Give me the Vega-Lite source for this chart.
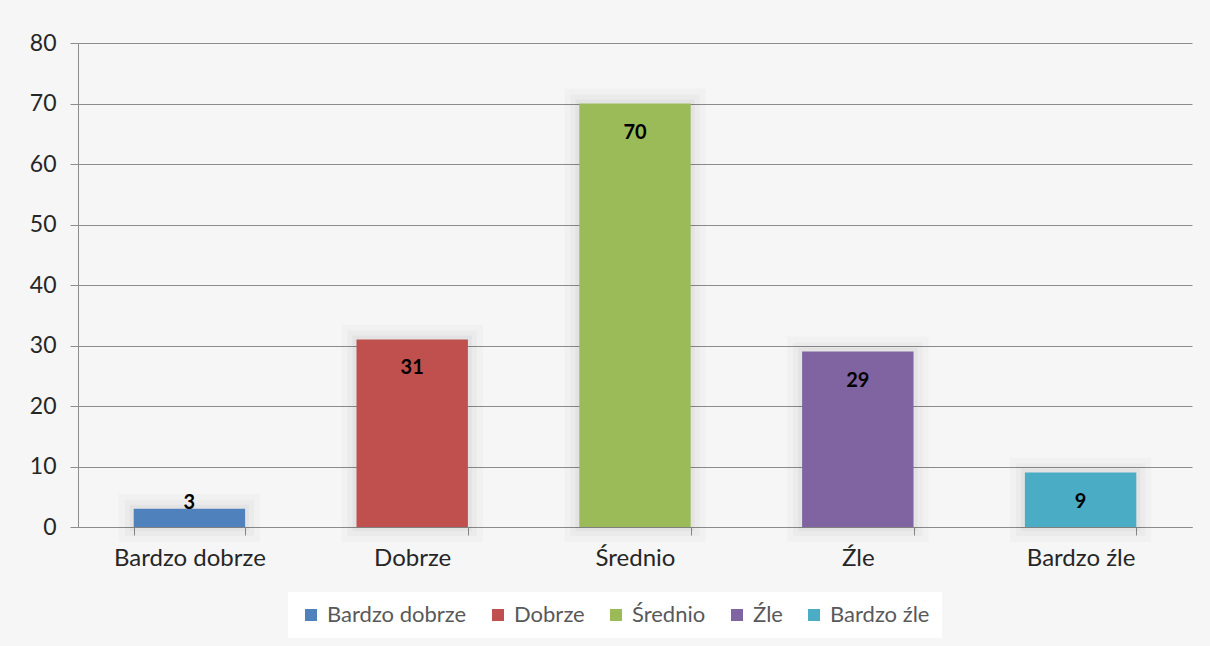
{
  "$schema": "https://vega.github.io/schema/vega-lite/v6.json",
  "width": 1114,
  "height": 484,
  "autosize": {"type": "none"},
  "padding": {"left": 78, "top": 43, "right": 18, "bottom": 119},
  "background": "#f6f6f6",
  "config": {"view": {"stroke": null}, "font": "Lato"},
  "data": {
    "values": [
      {"category": "Bardzo dobrze", "value": 3},
      {"category": "Dobrze", "value": 31},
      {"category": "Średnio", "value": 70},
      {"category": "Źle", "value": 29},
      {"category": "Bardzo źle", "value": 9}
    ]
  },
  "encoding": {
    "x": {
      "field": "category",
      "type": "nominal",
      "sort": null,
      "scale": {"paddingInner": 0.5, "paddingOuter": 0.25},
      "axis": {
        "title": null,
        "labelAngle": 0,
        "labelFontSize": 24,
        "labelColor": "#262626",
        "labelPadding": 11,
        "domainColor": "#8c8c8c",
        "tickColor": "#8c8c8c",
        "tickSize": 8,
        "tickBand": "extent"
      }
    },
    "y": {
      "field": "value",
      "type": "quantitative",
      "scale": {"domain": [0, 80]},
      "axis": {
        "title": null,
        "values": [0, 10, 20, 30, 40, 50, 60, 70, 80],
        "labelFontSize": 23,
        "labelColor": "#262626",
        "labelPadding": 14,
        "domainColor": "#8c8c8c",
        "tickColor": "#8c8c8c",
        "tickSize": 8,
        "gridColor": "#8c8c8c",
        "gridWidth": 1
      }
    }
  },
  "layer": [
    {
      "mark": {"type": "bar", "fill": "#000", "fillOpacity": 0, "stroke": "#000", "strokeOpacity": 0.02, "strokeWidth": 30}
    },
    {
      "mark": {"type": "bar", "fill": "#000", "fillOpacity": 0, "stroke": "#000", "strokeOpacity": 0.025, "strokeWidth": 18}
    },
    {
      "mark": {"type": "bar", "fill": "#000", "fillOpacity": 0, "stroke": "#000", "strokeOpacity": 0.03, "strokeWidth": 8}
    },
    {
      "mark": {"type": "bar"},
      "encoding": {
        "color": {
          "field": "category",
          "type": "nominal",
          "scale": {
            "domain": ["Bardzo dobrze", "Dobrze", "Średnio", "Źle", "Bardzo źle"],
            "range": ["#4F81BD", "#C0504D", "#9BBB59", "#8064A2", "#4BACC6"]
          },
          "legend": {
            "title": null,
            "orient": "none",
            "legendX": 210,
            "legendY": 549,
            "direction": "horizontal",
            "fillColor": "white",
            "padding": 12,
            "symbolType": "square",
            "symbolSize": 144,
            "symbolStrokeWidth": 0,
            "labelFontSize": 22,
            "labelColor": "#595959",
            "labelOffset": 5,
            "columnPadding": 20
          }
        }
      }
    },
    {
      "transform": [{"filter": "datum.value >= 5"}],
      "mark": {"type": "text", "baseline": "middle", "dy": 29, "fontSize": 20, "fontWeight": "bold", "color": "#000"},
      "encoding": {"text": {"field": "value", "type": "quantitative"}}
    },
    {
      "transform": [{"filter": "datum.value < 5"}],
      "mark": {"type": "text", "baseline": "middle", "dy": -6, "fontSize": 20, "fontWeight": "bold", "color": "#000"},
      "encoding": {"text": {"field": "value", "type": "quantitative"}}
    }
  ]
}
